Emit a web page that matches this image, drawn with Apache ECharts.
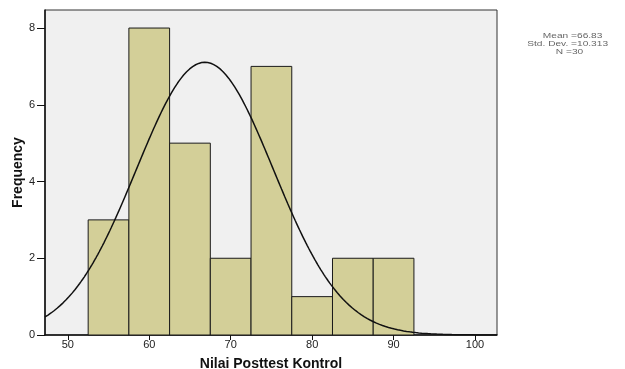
<!DOCTYPE html>
<html>
<head>
<meta charset="utf-8">
<script src="https://cdn.jsdelivr.net/npm/echarts@6/dist/echarts.min.js"></script>
<style>
  html, body { margin: 0; padding: 0; background: #ffffff; }
  #chart { width: 625px; height: 369px; }
</style>
</head>
<body>
<div id="chart"></div>
<script>
// Histogram bins (lower edge of each 5-point bin) and their frequencies
const binStarts = [52.5, 57.5, 62.5, 67.5, 72.5, 77.5, 82.5, 87.5];
const binWidth = 5;
const counts = [3, 8, 5, 2, 7, 1, 2, 2];

// Axis ticks
const xTicks = [50, 60, 70, 80, 90, 100];
const yTicks = [0, 2, 4, 6, 8];

// Summary statistics shown beside the chart
const statN = 30;
const statMean = 66.83;
const statSd = 10.313;
// Spread used for the overlaid normal curve
const curveSd = 8.42;

const xMin = 47.2, xMax = 102.7;
const yMax = 8.47;

// Normal curve scaled to the histogram (N * bin width * density)
const curvePts = [];
for (let i = 0; i <= 300; i++) {
  const x = xMin + (xMax - xMin) * i / 300;
  const z = (x - statMean) / curveSd;
  const y = statN * binWidth * Math.exp(-0.5 * z * z) / (curveSd * Math.sqrt(2 * Math.PI));
  curvePts.push([x, y]);
}

const barData = binStarts.map((s, i) => [s, s + binWidth, counts[i]]);

const chart = echarts.init(document.getElementById('chart'), null, { renderer: 'canvas' });

const tickFont = { fontFamily: 'Liberation Sans, Arial, sans-serif', fontSize: 11, color: '#222' };
const statFont = '7px Liberation Sans, Arial, sans-serif';

// Stats block: labels right-aligned and values left-aligned on the "=" column
function statText(text, x, y, align) {
  return { type: 'text', style: { text: text, x: x, y: y, align: align, verticalAlign: 'middle', fill: '#666', font: statFont } };
}

chart.setOption({
  backgroundColor: '#ffffff',
  animation: false,
  grid: {
    left: 45, right: 128, top: 10, bottom: 34,
    outerBoundsMode: 'none',
    containLabel: false,
    show: true,
    backgroundColor: '#f0f0f0',
    borderColor: '#333',
    borderWidth: 1
  },
  xAxis: {
    type: 'value',
    min: xMin, max: xMax,
    name: 'Nilai Posttest Kontrol',
    nameLocation: 'middle',
    nameGap: 22,
    nameMoveOverlap: false,
    nameTextStyle: { fontFamily: 'Liberation Sans, Arial, sans-serif', fontSize: 14, fontWeight: 'bold', color: '#111' },
    axisLine: { show: true, onZero: false, lineStyle: { color: '#111', width: 1.5 } },
    axisTick: { show: true, length: 5, customValues: xTicks, lineStyle: { color: '#111' } },
    axisLabel: Object.assign({ customValues: xTicks, margin: 4 }, tickFont),
    splitLine: { show: false }
  },
  yAxis: {
    type: 'value',
    min: 0, max: yMax,
    name: 'Frequency',
    nameLocation: 'middle',
    nameGap: 20,
    nameMoveOverlap: false,
    nameTextStyle: { fontFamily: 'Liberation Sans, Arial, sans-serif', fontSize: 14, fontWeight: 'bold', color: '#111' },
    axisLine: { show: true, onZero: false, lineStyle: { color: '#111', width: 1.5 } },
    axisTick: { show: true, length: 8, customValues: yTicks, lineStyle: { color: '#111' } },
    axisLabel: Object.assign({ customValues: yTicks, margin: 10 }, tickFont),
    splitLine: { show: false }
  },
  series: [
    {
      type: 'custom',
      data: barData,
      renderItem: function (params, api) {
        const p0 = api.coord([api.value(0), 0]);
        const p1 = api.coord([api.value(1), api.value(2)]);
        return {
          type: 'rect',
          shape: { x: p0[0], y: p1[1], width: p1[0] - p0[0], height: p0[1] - p1[1] },
          style: { fill: '#d3cf98', stroke: '#1a1a1a', lineWidth: 1 }
        };
      },
      encode: { x: [0, 1], y: 2 },
      z: 2
    },
    {
      type: 'line',
      data: curvePts,
      showSymbol: false,
      smooth: false,
      lineStyle: { color: '#111', width: 1.5 },
      z: 3
    }
  ],
  graphic: [
    {
      type: 'group',
      x: 577, y: 0,
      scaleX: 1.45,
      children: [
        statText('Mean =', 0, 36, 'right'),
        statText(statMean.toFixed(2), 0, 36, 'left'),
        statText('Std. Dev. =', 0, 44, 'right'),
        statText(statSd.toFixed(3), 0, 44, 'left'),
        statText('N =', -3.5, 52, 'right'),
        statText(String(statN), -3.5, 52, 'left')
      ]
    }
  ]
});
</script>
</body>
</html>
